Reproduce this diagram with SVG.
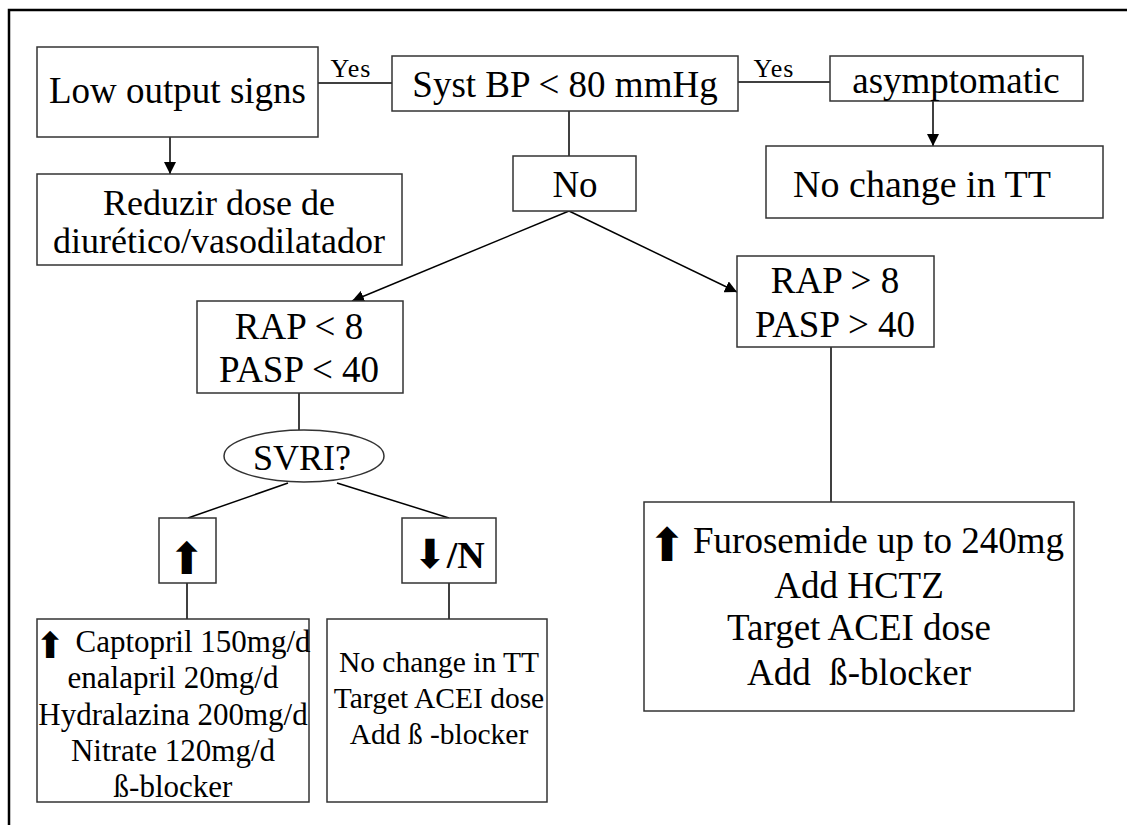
<svg xmlns="http://www.w3.org/2000/svg" width="1127" height="825" viewBox="0 0 1127 825">
  <style>
    .box { fill: #ffffff; stroke: #333333; stroke-width: 1.5; }
    .wire { fill: none; stroke: #000000; stroke-width: 1.5; }
    .t { font-family: "Liberation Serif", "Times New Roman", serif; fill: #000000; text-anchor: middle; }
    .lg { font-size: 37px; }
    .sm { font-size: 31px; }
    .md { font-size: 29.5px; }
    .yes { font-size: 26px; letter-spacing: 1px; }
    .arr { font-family: "DejaVu Sans", sans-serif; fill: #000000; text-anchor: middle; }
    .sym { font-family: "DejaVu Sans", sans-serif; }
    .bold { font-weight: bold; }
  </style>
  <defs>
    <marker id="head" markerUnits="userSpaceOnUse" markerWidth="12" markerHeight="12" refX="12" refY="6" orient="auto">
      <path d="M0,0 L12,6 L0,12 z" fill="#000000"/>
    </marker>
  </defs>

  <!-- frame -->
  <path d="M9,825 V10 H1127" fill="none" stroke="#000000" stroke-width="2.5"/>

  <!-- connectors -->
  <g id="connectors">
    <line class="wire" x1="318" y1="83" x2="392" y2="83"/>
    <text class="t yes" x="351" y="77">Yes</text>
    <line class="wire" x1="738" y1="82" x2="830" y2="82"/>
    <text class="t yes" x="774" y="77">Yes</text>
    <line class="wire" x1="170" y1="137" x2="170" y2="174" marker-end="url(#head)"/>
    <line class="wire" x1="933" y1="101" x2="933" y2="146" marker-end="url(#head)"/>
    <line class="wire" x1="569" y1="111" x2="569" y2="156"/>
    <line class="wire" x1="569" y1="211" x2="352" y2="301" marker-end="url(#head)"/>
    <line class="wire" x1="569" y1="211" x2="737" y2="292" marker-end="url(#head)"/>
    <line class="wire" x1="299" y1="393" x2="299" y2="430"/>
    <line class="wire" x1="288" y1="483" x2="188" y2="518"/>
    <line class="wire" x1="337" y1="483" x2="449" y2="518"/>
    <line class="wire" x1="187" y1="583" x2="187" y2="619"/>
    <line class="wire" x1="449" y1="583" x2="449" y2="619"/>
    <line class="wire" x1="831" y1="347" x2="831" y2="502"/>
  </g>

  <g id="low-output">
    <rect class="box" x="37" y="47" width="281" height="90"/>
    <text class="t lg" x="177.5" y="103">Low output signs</text>
  </g>

  <g id="reduce-dose">
    <rect class="box" x="37" y="174" width="365" height="91"/>
    <text class="t" style="font-size:36px" x="219" y="215">Reduzir dose de</text>
    <text class="t" style="font-size:36px" x="219" y="253">diurético/vasodilatador</text>
  </g>

  <g id="syst-bp">
    <rect class="box" x="392" y="56" width="346" height="55"/>
    <text class="t lg" x="565" y="97">Syst BP &lt; 80 mmHg</text>
  </g>

  <g id="asymptomatic">
    <rect class="box" x="830" y="56" width="253" height="45"/>
    <text class="t lg" x="956" y="93">asymptomatic</text>
  </g>

  <g id="no-change-top">
    <rect class="box" x="766" y="146" width="337" height="72"/>
    <text class="t" style="font-size:38px" x="922" y="197">No change in TT</text>
  </g>

  <g id="no">
    <rect class="box" x="513" y="156" width="123" height="55"/>
    <text class="t lg" x="575" y="197">No</text>
  </g>

  <g id="low-pressures">
    <rect class="box" x="197" y="301" width="206" height="92"/>
    <text class="t lg" x="299" y="339">RAP &lt; 8</text>
    <text class="t lg" x="299" y="382">PASP &lt; 40</text>
  </g>

  <g id="high-pressures">
    <rect class="box" x="737" y="256" width="197" height="91"/>
    <text class="t lg" x="835" y="293">RAP &gt; 8</text>
    <text class="t lg" x="835" y="337">PASP &gt; 40</text>
  </g>

  <g id="svri">
    <ellipse class="box" cx="304" cy="456" rx="80" ry="26"/>
    <text class="t" style="font-size:36px" x="302" y="470">SVRI?</text>
  </g>

  <g id="svri-high">
    <rect class="box" x="159" y="518" width="57" height="65"/>
    <text class="arr" style="font-size:44px" x="187" y="574">⬆</text>
  </g>

  <g id="svri-low">
    <rect class="box" x="402" y="518" width="94" height="65"/>
    <text class="t bold" style="font-size:38px" x="449" y="568"><tspan class="sym" style="font-size:40px; font-weight:normal">⬇</tspan>/N</text>
  </g>

  <g id="vasodilators">
    <rect class="box" x="37" y="619" width="272" height="183"/>
    <text class="arr" style="font-size:36px" x="50" y="658">⬆</text>
    <text class="t sm" x="193" y="652">Captopril 150mg/d</text>
    <text class="t sm" x="173" y="688">enalapril 20mg/d</text>
    <text class="t sm" x="173" y="725">Hydralazina 200mg/d</text>
    <text class="t sm" x="173" y="761">Nitrate 120mg/d</text>
    <text class="t sm" x="173" y="797">ß-blocker</text>
  </g>

  <g id="keep-therapy">
    <rect class="box" x="327" y="619" width="220" height="183"/>
    <text class="t md" x="439" y="672">No change in TT</text>
    <text class="t md" x="439" y="708">Target ACEI dose</text>
    <text class="t md" x="439" y="744">Add ß -blocker</text>
  </g>

  <g id="diuretics">
    <rect class="box" x="644" y="502" width="430" height="209"/>
    <text class="arr" style="font-size:46px" x="667" y="561">⬆</text>
    <text class="t lg" style="text-anchor:start" x="693" y="553">Furosemide up to 240mg</text>
    <text class="t lg" x="859" y="598">Add HCTZ</text>
    <text class="t lg" x="859" y="640">Target ACEI dose</text>
    <text class="t lg" x="859" y="685" xml:space="preserve">Add  ß-blocker</text>
  </g>
</svg>
